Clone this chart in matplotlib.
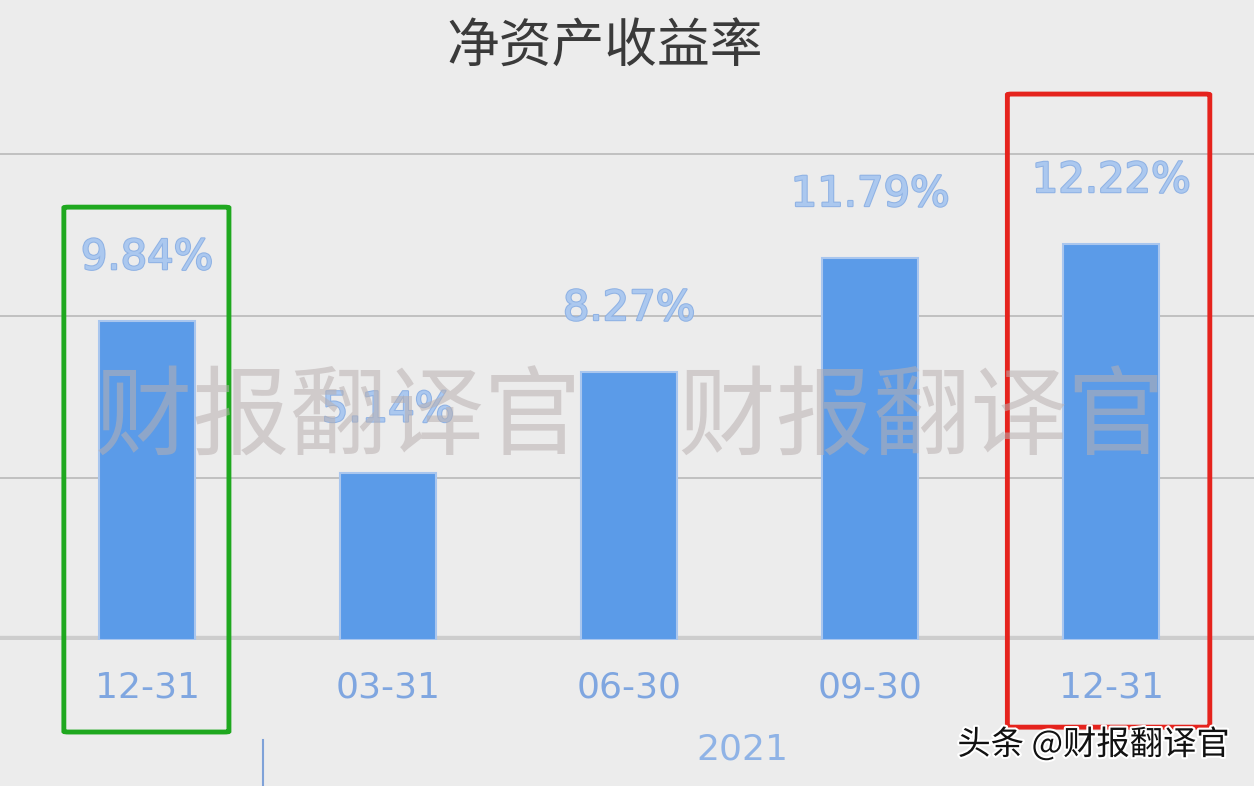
import matplotlib
matplotlib.use('Agg')
import matplotlib.pyplot as plt
import matplotlib.patheffects as pe
from matplotlib.patches import FancyBboxPatch

# ---------------------------------------------------------------------|
# Data
dates = ['12-31', '03-31', '06-30', '09-30', '12-31']
roe = [9.84, 5.14, 8.27, 11.79, 12.22]
year_label = '2021'
title = '净资产收益率'
watermark = '财报翻译官　财报翻译官'
credit = '头条 @财报翻译官'

plt.rcParams['font.family'] = ['Noto Sans CJK SC', 'DejaVu Sans']

W, H = 1254, 786
bg = '#ececec'
fig = plt.figure(figsize=(W / 100, H / 100), dpi=100, facecolor=bg)

# axes: baseline at 640 px from top, 32.4 px per percent
base_px = 640
ax = fig.add_axes([0, (H - base_px) / H, 1, base_px / H])
ax.set_facecolor(bg)
ax.set_xlim(-147 / 241, (W - 147) / 241)
ax.set_ylim(0, base_px / 32.4)

x = list(range(len(dates)))
ax.bar(x, roe, width=0.395, color='#5b9be8', edgecolor='#a9c6ee',
       linewidth=1.5, zorder=3)

# grid
for yv in (5, 10, 15):
    ax.axhline(yv, color='#b9b9b9', lw=1.2, zorder=1)
ax.axhline(0, color='#cdcdcd', lw=6, zorder=2)

for s in ax.spines.values():
    s.set_visible(False)
ax.set_yticks([])
ax.set_xticks(x)
ax.set_xticklabels(dates, color='#7fa6e0', fontsize=26, family=['DejaVu Sans'])
ax.tick_params(axis='x', length=0, pad=22)

# value labels
for xi, v in zip(x, roe):
    ax.annotate('%.2f%%' % v, (xi, v), xytext=(0, 46), textcoords='offset points',
                ha='center', va='center', fontsize=30,
                color='#abc8ef', family=['DejaVu Sans'], zorder=5,
                path_effects=[pe.withStroke(linewidth=1.5, foreground='#8fb2e4')])

# highlight boxes
boxes = [(0, -0.345, 0.34, 13.36, -2.84, '#1fa81f'),
         (4, -0.43, 0.41, 16.85, -2.69, '#e5231d')]
for i, dl, dr, top, bot, col in boxes:
    ax.add_patch(FancyBboxPatch((x[i] + dl, bot), dr - dl, top - bot,
                                boxstyle='round,pad=0,rounding_size=0.02',
                                fill=False, edgecolor=col, lw=3.5,
                                clip_on=False, zorder=6))

# title
fig.text(605 / W, 1 - 47 / H, title, ha='center', va='center',
         fontsize=38, color='#3a3a3a')

# watermark
fig.text(630 / W, 1 - 420 / H, watermark, ha='center', va='center',
         fontsize=70, color='#b9b0b0', alpha=0.55, zorder=10)

# year label and separator
fig.text(742 / W, 1 - 750 / H, year_label, ha='center', va='center',
         fontsize=26, color='#8fb3e6', family=['DejaVu Sans'])
fig.add_artist(plt.Line2D([263 / W, 263 / W], [0, 46 / H], color='#7fa2d8', lw=1.5))

# credit
fig.text(1230 / W, 1 - 745 / H, credit, ha='right', va='center',
         fontsize=24, color='#111111',
         path_effects=[pe.withStroke(linewidth=3, foreground='white')])

fig.savefig('out.png', dpi=100, facecolor=bg)
